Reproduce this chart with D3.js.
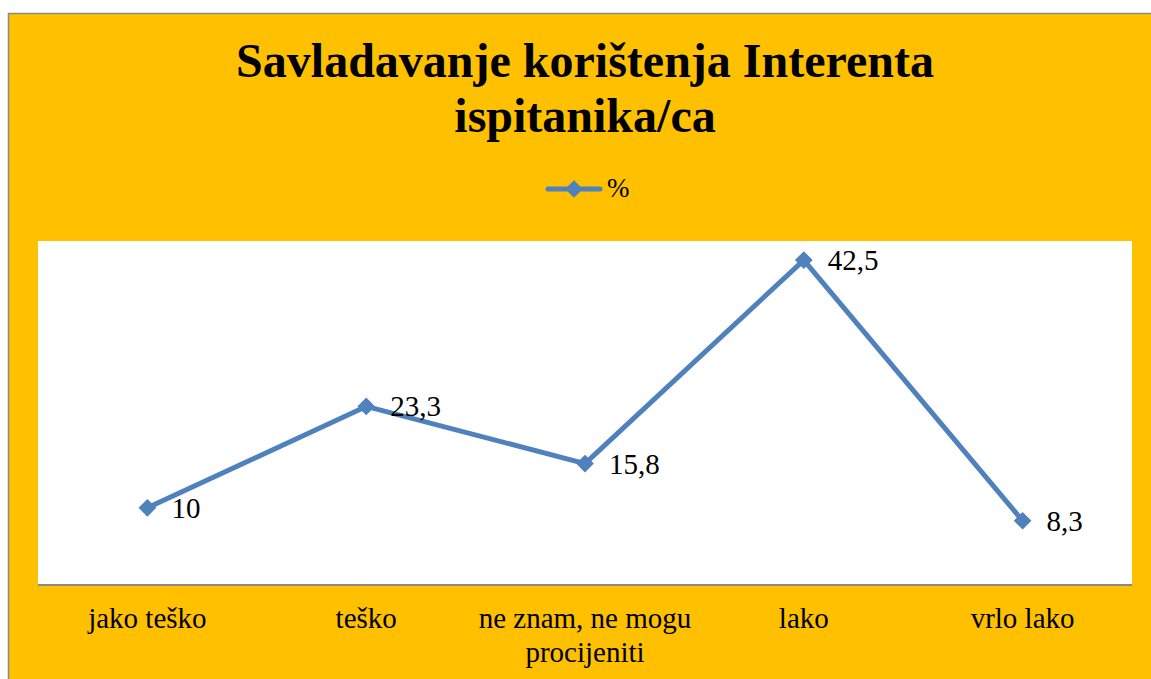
<!DOCTYPE html>
<html>
<head>
<meta charset="utf-8">
<script src="https://cdn.jsdelivr.net/npm/d3@7"></script>
</head>
<body style="margin:0">
<div id="chart"></div>
<script>
// podaci
const categories = ["jako teško", "teško", "ne znam, ne mogu procijeniti", "lako", "vrlo lako"];
const values = [10, 23.3, 15.8, 42.5, 8.3];
const seriesName = "%";
const titleLines = ["Savladavanje korištenja Interenta", "ispitanika/ca"];

const W = 1151, H = 679;
const plot = { left: 38, top: 241, right: 1132, bottom: 584 };
const lineColor = "#4F81BD";
const serif = "Liberation Serif";

const svg = d3.select("#chart").append("svg")
    .attr("width", W)
    .attr("height", H)
    .style("display", "block")
    .style("font-family", serif);

// pozadina
svg.append("rect")
    .attr("x", 8.5).attr("y", 13.5)
    .attr("width", W).attr("height", H)
    .attr("fill", "#FFC000")
    .attr("stroke", "#898989")
    .attr("stroke-width", 1.5);

svg.append("rect")
    .attr("x", plot.left).attr("y", plot.top)
    .attr("width", plot.right - plot.left)
    .attr("height", plot.bottom - plot.top)
    .attr("fill", "#fff");

// naslov
svg.selectAll(".title")
    .data(titleLines)
    .enter()
    .append("text")
    .attr("class", "title")
    .attr("x", 585)
    .attr("y", (d, i) => 77 + i * 55)
    .attr("text-anchor", "middle")
    .style("font-size", "48px")
    .style("font-weight", "bold")
    .text(d => d);

// legenda
const lg = svg.append("g").attr("transform", "translate(574,189)");
lg.append("line")
    .attr("x1", -26).attr("x2", 26)
    .attr("stroke", lineColor).attr("stroke-width", 5)
    .attr("stroke-linecap", "round");
lg.append("path")
    .attr("d", d3.symbol(d3.symbolDiamond2, 200)())
    .attr("fill", lineColor);
lg.append("text")
    .attr("x", 33).attr("y", 8)
    .style("font-size", "27px")
    .text(seriesName);

// skale
const x = d3.scalePoint()
    .domain(categories)
    .range([plot.left, plot.right])
    .padding(0.5);

const y = d3.scaleLinear()
    .domain([0, 45])
    .range([plot.bottom, plot.top]);

// os x
const xAxis = svg.append("g")
    .attr("transform", `translate(0,${plot.bottom})`)
    .call(d3.axisBottom(x).tickSize(0).tickFormat(""));
xAxis.attr("font-family", null);
xAxis.select(".domain")
    .attr("stroke", "#898989")
    .attr("stroke-width", 2)
    .attr("d", `M${plot.left},1H${plot.right}`);

const wrapLabel = s => s === "ne znam, ne mogu procijeniti" ? ["ne znam, ne mogu", "procijeniti"] : [s];

categories.forEach(c => {
    wrapLabel(c).forEach((t, i) => {
        svg.append("text")
            .attr("x", x(c))
            .attr("y", 628 + i * 34)
            .attr("text-anchor", "middle")
            .style("font-size", "29px")
            .text(t);
    });
});

// linija
const pts = categories.map((c, i) => [x(c), y(values[i])]);

svg.append("path")
    .datum(pts)
    .attr("fill", "none")
    .attr("stroke", lineColor)
    .attr("stroke-width", 5)
    .attr("stroke-linejoin", "round")
    .attr("d", d3.line());

svg.selectAll(".marker")
    .data(pts)
    .enter()
    .append("path")
    .attr("class", "marker")
    .attr("transform", d => `translate(${d[0]},${d[1]})`)
    .attr("d", d3.symbol(d3.symbolDiamond2, 200)())
    .attr("fill", lineColor);

svg.selectAll(".lbl")
    .data(values)
    .enter()
    .append("text")
    .attr("class", "lbl")
    .attr("x", (d, i) => pts[i][0] + 24)
    .attr("y", (d, i) => pts[i][1] + 10)
    .style("font-size", "29px")
    .text(d => String(d).replace(".", ","));
</script>
</body>
</html>
